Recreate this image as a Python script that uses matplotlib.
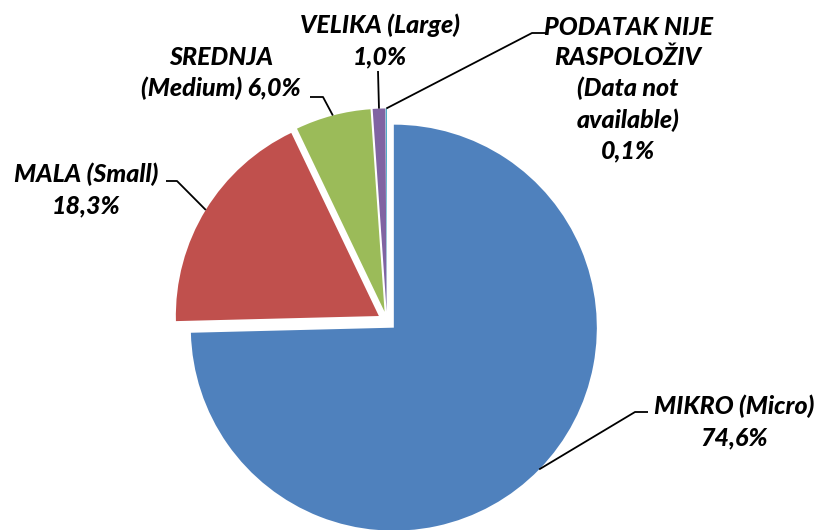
import matplotlib.pyplot as plt
import numpy as np

# data
categories = ["MIKRO (Micro)", "MALA (Small)", "SREDNJA\n(Medium)", "VELIKA (Large)",
              "PODATAK NIJE\nRASPOLOŽIV\n(Data not\navailable)"]
shares = [74.6, 18.3, 6.0, 1.0, 0.1]
label_texts = ["MIKRO (Micro)\n74,6%", "MALA (Small)\n18,3%", "SREDNJA\n(Medium) 6,0%",
               "VELIKA (Large)\n1,0%", "PODATAK NIJE\nRASPOLOŽIV\n(Data not\navailable)\n0,1%"]
colors = ["#4F81BD", "#C0504D", "#9BBB59", "#8064A2", "#4BACC6"]

plt.rcParams['font.family'] = ['Lato', 'DejaVu Sans']

W, H = 818, 530
cx, cy, R = 387, 321, 203   # pie centre / radius in pixels

def px(x, y):
    # pixel position -> data units (pie radius = 1)
    return (x - cx) / R, (cy - y) / R

fig = plt.figure(figsize=(W / 100, H / 100), dpi=100)
ax = fig.add_axes([0, 0, 1, 1])
wedges, _ = ax.pie(shares, colors=colors, startangle=90, counterclock=False,
                   explode=[0.047] * len(shares), radius=1,
                   wedgeprops=dict(linewidth=0))
ax.set_xlim(-cx / R, (W - cx) / R)
ax.set_ylim(-(H - cy) / R, cy / R)
ax.set_aspect('equal')
ax.axis('off')

# label block centres and leader elbows (pixels)
text_pos = [(734, 422), (86, 190), (221, 73), (380, 41), (628, 89)]
elbows = [[(648, 412), (635, 412)],
          [(166, 181), (177, 181)],
          [(310, 97), (323, 97)],
          [(378, 71)],
          [(547, 33), (532, 33)]]

for w, txt, tp, el in zip(wedges, label_texts, text_pos, elbows):
    ang = np.deg2rad((w.theta1 + w.theta2) / 2)
    ex = w.center[0] + w.r * np.cos(ang)
    ey = w.center[1] + w.r * np.sin(ang)
    pts = [px(*p) for p in el] + [(ex, ey)]
    xs, ys = zip(*pts)
    ax.plot(xs, ys, color='black', linewidth=1.3, solid_capstyle='butt')
    tx, ty = px(*tp)
    ax.text(tx, ty, txt, ha='center', va='center', multialignment='center',
            fontsize=18, fontweight='black', fontstyle='italic', linespacing=1.4)

fig.savefig('out.png', dpi=100)
